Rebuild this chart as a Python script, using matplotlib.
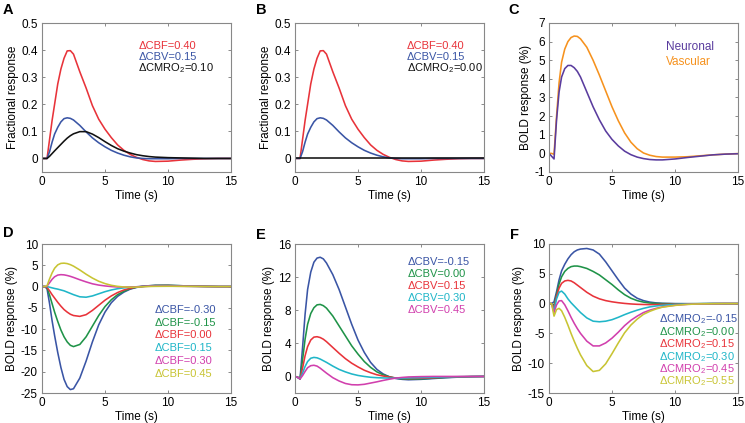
import matplotlib
matplotlib.use('Agg')
import matplotlib.pyplot as plt

plt.rcParams['font.family'] = ['Liberation Sans', 'DejaVu Sans']
plt.rcParams['mathtext.default'] = 'regular'
plt.rcParams['axes.unicode_minus'] = False

# time axis (s), shared by every curve
t = [0, 0.2, 0.4, 0.6, 0.8, 1.0, 1.25, 1.5, 1.75, 2.0, 2.25, 2.5, 3.0, 3.5, 4.0, 4.5,
     5.0, 5.5, 6.0, 6.5, 7.0, 7.5, 8.0, 8.5, 9.0, 10, 11, 12, 13, 14, 15]

# panel A / B : fractional responses
a_cbf = [0, 0, 0, 0.07, 0.14, 0.2, 0.275, 0.33, 0.37, 0.397, 0.398, 0.385, 0.32, 0.26, 0.195, 0.145,
         0.108, 0.077, 0.05, 0.03, 0.015, 0.004, -0.004, -0.009, -0.011, -0.01, -0.006, -0.003, -0.001, 0, 0]
a_cbv = [0, 0, 0, 0.025, 0.06, 0.09, 0.115, 0.135, 0.147, 0.15, 0.148, 0.142, 0.122, 0.098, 0.076, 0.058,
         0.043, 0.03, 0.02, 0.012, 0.006, 0.002, 0, -0.001, -0.001, -0.001, 0, 0, 0, 0, 0]
a_cmro2 = [0, 0, 0, 0.008, 0.018, 0.028, 0.04, 0.052, 0.064, 0.075, 0.084, 0.091, 0.099, 0.099, 0.09, 0.077,
           0.062, 0.048, 0.036, 0.027, 0.02, 0.014, 0.01, 0.007, 0.005, 0.003, 0.002, 0.001, 0, 0, 0]
b_cmro2 = [0] * len(t)

# panel C : BOLD (%)
c_neuronal = [0, -0.15, -0.3, 1.8, 3.3, 4.1, 4.55, 4.72, 4.72, 4.6, 4.4, 4.1, 3.3, 2.5, 1.8, 1.2,
              0.75, 0.4, 0.12, -0.07, -0.2, -0.28, -0.33, -0.35, -0.35, -0.3, -0.22, -0.15, -0.08, -0.04, -0.02]
c_vascular = [0, 0, -0.05, 2.0, 3.8, 4.9, 5.6, 6.0, 6.22, 6.3, 6.28, 6.15, 5.7, 5.0, 4.2, 3.35,
              2.5, 1.75, 1.1, 0.6, 0.25, 0.02, -0.1, -0.17, -0.2, -0.2, -0.18, -0.13, -0.08, -0.04, -0.01]

# panel D : BOLD (%) vs dCBF
d_labels = ['-0.30', '-0.15', '0.00', '0.15', '0.30', '0.45']
d_curves = [
    [0, 0, -0.5, -4, -8, -11.5, -15.5, -19, -21.8, -23.5, -24.2, -24, -21.5, -17.5, -13, -9,
     -6, -3.8, -2.3, -1.3, -0.6, -0.2, 0.05, 0.2, 0.3, 0.3, 0.2, 0.1, 0.05, 0, 0],
    [0, 0, -0.3, -2, -4, -6, -8.2, -10.2, -11.8, -13, -13.8, -14.1, -13.6, -11.8, -9.3, -6.8,
     -4.7, -3.1, -1.9, -1.1, -0.5, -0.15, 0.05, 0.18, 0.25, 0.28, 0.2, 0.1, 0.05, 0, 0],
    [0, 0, -0.2, -1, -1.9, -2.7, -3.7, -4.6, -5.4, -6.0, -6.5, -6.8, -7.0, -6.6, -5.6, -4.4,
     -3.2, -2.2, -1.4, -0.8, -0.4, -0.1, 0.05, 0.15, 0.2, 0.22, 0.15, 0.08, 0.03, 0, 0],
    [0, 0, 0, -0.15, -0.3, -0.45, -0.6, -0.8, -1.0, -1.3, -1.6, -1.9, -2.4, -2.5, -2.2, -1.7,
     -1.2, -0.8, -0.5, -0.3, -0.15, -0.05, 0.05, 0.1, 0.15, 0.15, 0.1, 0.05, 0.02, 0, 0],
    [0, 0, 0.1, 0.9, 1.7, 2.3, 2.7, 2.8, 2.75, 2.6, 2.4, 2.15, 1.6, 1.1, 0.65, 0.35,
     0.15, 0, -0.1, -0.12, -0.1, -0.05, 0.02, 0.08, 0.1, 0.1, 0.07, 0.04, 0.02, 0, 0],
    [0, 0, 0.2, 1.8, 3.2, 4.3, 5.1, 5.45, 5.5, 5.4, 5.15, 4.8, 3.9, 2.9, 2.0, 1.25,
     0.7, 0.3, 0.05, -0.1, -0.15, -0.12, -0.05, 0.02, 0.05, 0.07, 0.05, 0.03, 0.01, 0, 0],
]

# panel E : BOLD (%) vs dCBV
e_labels = ['-0.15', '0.00', '0.15', '0.30', '0.45']
e_curves = [
    [0, -0.1, -0.3, 3.5, 7.5, 10.5, 12.6, 13.8, 14.3, 14.4, 14.2, 13.7, 12.3, 10.5, 8.4, 6.3,
     4.4, 2.9, 1.7, 0.85, 0.3, -0.05, -0.25, -0.35, -0.4, -0.35, -0.25, -0.15, -0.08, -0.03, 0],
    [0, -0.1, -0.3, 2.0, 4.5, 6.3, 7.6, 8.3, 8.65, 8.7, 8.55, 8.25, 7.3, 6.1, 4.9, 3.7,
     2.7, 1.8, 1.1, 0.55, 0.2, -0.05, -0.2, -0.3, -0.33, -0.3, -0.2, -0.12, -0.06, -0.02, 0],
    [0, -0.1, -0.3, 1.0, 2.5, 3.6, 4.4, 4.75, 4.8, 4.7, 4.5, 4.2, 3.5, 2.8, 2.15, 1.6,
     1.15, 0.75, 0.45, 0.2, 0.05, -0.08, -0.18, -0.23, -0.25, -0.22, -0.15, -0.08, -0.04, -0.01, 0],
    [0, -0.1, -0.3, 0.4, 1.2, 1.8, 2.2, 2.3, 2.25, 2.1, 1.9, 1.7, 1.25, 0.85, 0.55, 0.3,
     0.12, 0, -0.1, -0.15, -0.18, -0.2, -0.2, -0.2, -0.18, -0.14, -0.1, -0.06, -0.03, -0.01, 0],
    [0, -0.1, -0.3, 0.1, 0.6, 1.05, 1.3, 1.35, 1.25, 1.0, 0.7, 0.4, -0.15, -0.55, -0.85, -1.0,
     -1.02, -0.95, -0.8, -0.65, -0.48, -0.33, -0.2, -0.12, -0.06, -0.02, 0, 0, 0, 0, 0],
]

# panel F : BOLD (%) vs dCMRO2
f_labels = ['-0.15', '0.00', '0.15', '0.30', '0.45', '0.55']
f_curves = [
    [0, 0, 0.3, 2.0, 4.0, 5.5, 6.6, 7.5, 8.2, 8.7, 9.0, 9.15, 9.25, 9.0, 8.3, 7.0,
     5.5, 4.0, 2.6, 1.6, 0.9, 0.5, 0.25, 0.12, 0.05, 0, -0.02, -0.02, 0, 0, 0],
    [0, 0, -0.3, 1.5, 3.3, 4.5, 5.4, 5.9, 6.2, 6.3, 6.3, 6.2, 5.9, 5.4, 4.8, 4.0,
     3.2, 2.3, 1.5, 0.9, 0.5, 0.25, 0.1, 0.03, 0, -0.03, -0.02, -0.01, 0, 0, 0],
    [0, 0, -0.8, 1.2, 2.6, 3.4, 3.8, 3.9, 3.8, 3.5, 3.1, 2.7, 1.9, 1.25, 0.8, 0.5,
     0.3, 0.15, 0.03, -0.06, -0.12, -0.15, -0.17, -0.16, -0.14, -0.1, -0.06, -0.03, -0.01, 0, 0],
    [0, 0, -1.2, 0.8, 1.9, 2.1, 1.6, 0.8, 0.15, -0.4, -0.95, -1.5, -2.4, -2.95, -3.05, -2.95,
     -2.7, -2.3, -1.85, -1.45, -1.1, -0.8, -0.55, -0.4, -0.28, -0.13, -0.06, -0.02, 0, 0, 0],
    [0, 0, -1.5, -0.2, 0.45, 0.5, -0.2, -1.2, -2.3, -3.3, -4.2, -5.0, -6.3, -7.1, -7.1, -6.6,
     -5.8, -4.8, -3.7, -2.8, -2.1, -1.5, -1.1, -0.8, -0.55, -0.28, -0.12, -0.05, -0.02, 0, 0],
    [0, 0, -2.1, -1.0, -0.8, -1.2, -2.3, -3.6, -5.0, -6.3, -7.5, -8.6, -10.4, -11.4, -11.2, -10.1,
     -8.4, -6.6, -4.9, -3.6, -2.6, -1.8, -1.3, -0.9, -0.6, -0.3, -0.13, -0.05, -0.02, 0, 0],
]

RED = '#e8333a'
BLUE = '#3a55a5'
BLACK = '#111111'
GREEN = '#1f9348'
CYAN = '#20b6c8'
MAGENTA = '#d13fad'
YELLOW = '#c8c433'
PURPLE = '#5a3c9e'
ORANGE = '#f6921e'
six_colors = [BLUE, GREEN, RED, CYAN, MAGENTA, YELLOW]

FS = 8.5
LEG_FS = 8
LW = 1.15


def style_axes(ax, ylim, yticks, yticklabels, ylabel):
    ax.set_xlim(0, 15)
    ax.set_ylim(*ylim)
    ax.set_xticks([0, 5, 10, 15])
    ax.set_yticks(yticks)
    ax.set_yticklabels(yticklabels)
    ax.tick_params(direction='in', length=2.5, width=0.6, color='#777777',
                   top=True, right=True, labelsize=FS, pad=3)
    for spine in ax.spines.values():
        spine.set_color('#888888')
        spine.set_linewidth(0.8)
    ax.set_xlabel('Time (s)', fontsize=FS, labelpad=1)
    ax.set_ylabel(ylabel, fontsize=FS, labelpad=2)


def legend_text(ax, lines, x, y0, step, fs):
    for i, (txt, col) in enumerate(lines):
        ax.text(x, y0 - i * step, txt, color=col, fontsize=fs,
                transform=ax.transAxes, va='center', ha='left')


fig = plt.figure(figsize=(7.45, 4.23), dpi=100)
lefts = [42 / 745, 295 / 745, 549 / 745]
w = 189 / 745
h = 149 / 423
top_b = (423 - 172) / 423
bot_b = (423 - 393) / 423

ax_a = fig.add_axes([lefts[0], top_b, w, h])
ax_b = fig.add_axes([lefts[1], top_b, w, h])
ax_c = fig.add_axes([lefts[2], top_b, w, h])
ax_d = fig.add_axes([lefts[0], bot_b, w, h])
ax_e = fig.add_axes([lefts[1], bot_b, w, h])
ax_f = fig.add_axes([lefts[2], bot_b, w, h])

frac_ticks = [0, 0.1, 0.2, 0.3, 0.4, 0.5]
frac_labels = ['0', '0.1', '0.2', '0.3', '0.4', '0.5']

# A
ax_a.plot(t, a_cbf, color=RED, lw=LW)
ax_a.plot(t, a_cbv, color=BLUE, lw=LW)
ax_a.plot(t, a_cmro2, color=BLACK, lw=LW)
style_axes(ax_a, (-0.05, 0.5), frac_ticks, frac_labels, 'Fractional response')
legend_text(ax_a, [('ΔCBF=0.40', RED), ('ΔCBV=0.15', BLUE), ('ΔCMRO$_2$=0.10', BLACK)],
            0.51, 0.846, 0.073, LEG_FS)

# B
ax_b.plot(t, a_cbf, color=RED, lw=LW)
ax_b.plot(t, a_cbv, color=BLUE, lw=LW)
ax_b.plot(t, b_cmro2, color=BLACK, lw=LW)
style_axes(ax_b, (-0.05, 0.5), frac_ticks, frac_labels, 'Fractional response')
legend_text(ax_b, [('ΔCBF=0.40', RED), ('ΔCBV=0.15', BLUE), ('ΔCMRO$_2$=0.00', BLACK)],
            0.59, 0.846, 0.073, LEG_FS)

# C
ax_c.plot(t, c_vascular, color=ORANGE, lw=LW)
ax_c.plot(t, c_neuronal, color=PURPLE, lw=LW)
ct = list(range(-1, 8))
style_axes(ax_c, (-1, 7), ct, [str(v) for v in ct], 'BOLD response (%)')
legend_text(ax_c, [('Neuronal', PURPLE), ('Vascular', ORANGE)], 0.617, 0.839, 0.1, 8.5)

# D
for ys, col in zip(d_curves, six_colors):
    ax_d.plot(t, ys, color=col, lw=LW)
dt = [10, 5, 0, -5, -10, -15, -20, -25]
style_axes(ax_d, (-25, 10), dt, [str(v) for v in dt], 'BOLD response (%)')
legend_text(ax_d, [('ΔCBF=' + lab, col) for lab, col in zip(d_labels, six_colors)],
            0.598, 0.56, 0.087, LEG_FS)

# E
for ys, col in zip(e_curves, six_colors[:5]):
    ax_e.plot(t, ys, color=col, lw=LW)
et = [0, 4, 8, 12, 16]
style_axes(ax_e, (-2, 16), et, [str(v) for v in et], 'BOLD response (%)')
legend_text(ax_e, [('ΔCBV=' + lab, col) for lab, col in zip(e_labels, six_colors)],
            0.596, 0.88, 0.08, LEG_FS)

# F
for ys, col in zip(f_curves, six_colors):
    ax_f.plot(t, ys, color=col, lw=LW)
ft = [10, 5, 0, -5, -10, -15]
style_axes(ax_f, (-15, 10), ft, [str(v) for v in ft], 'BOLD response (%)')
legend_text(ax_f, [('ΔCMRO$_2$=' + lab, col) for lab, col in zip(f_labels, six_colors)],
            0.58, 0.493, 0.083, LEG_FS)

# panel letters
for lab, x, y in [('A', 3, 10), ('B', 256, 10), ('C', 508, 10),
                  ('D', 3, 233), ('E', 256, 235), ('F', 510, 235)]:
    fig.text(x / 745, 1 - y / 423, lab, fontsize=10.5, fontweight='bold',
             ha='left', va='center')

fig.savefig('out.png', dpi=100)
